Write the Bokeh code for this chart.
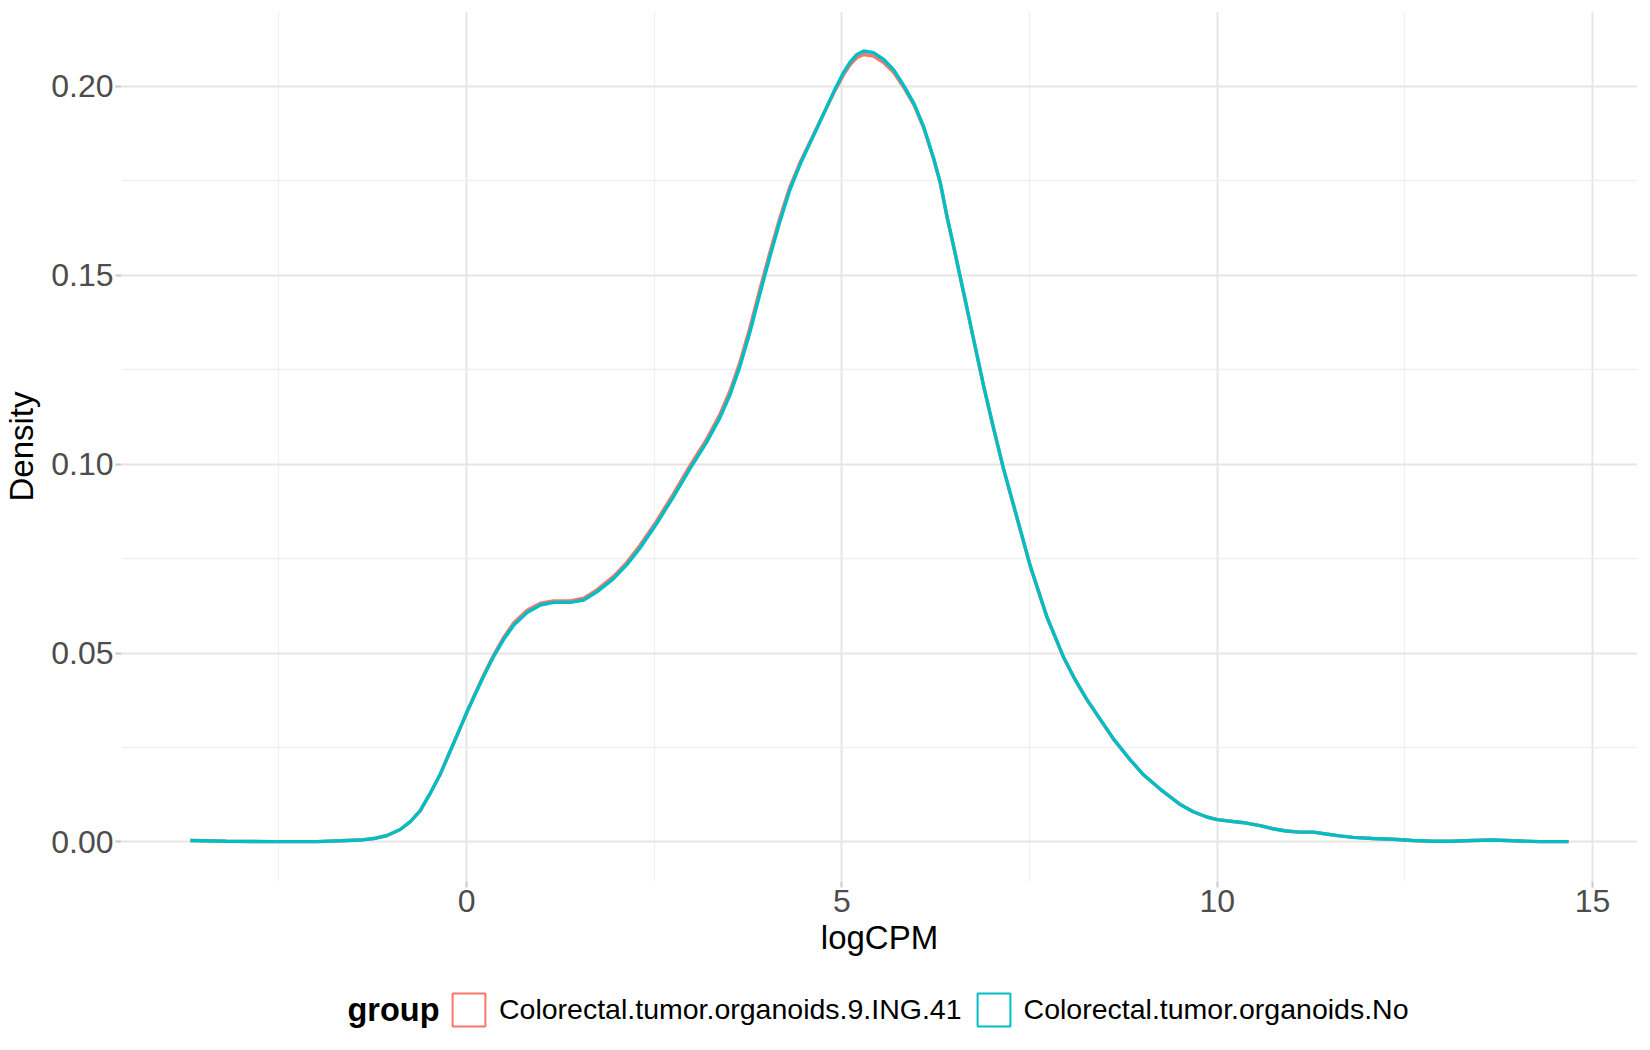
from bokeh.plotting import figure
from bokeh.models import Range1d, FixedTicker, Legend, LegendItem
from bokeh.layouts import column
from bokeh.core.properties import value
from bokeh.embed import file_html
from bokeh.resources import INLINE

# ---- data ----
logcpm = [-3.68, -3.2, -2.6, -2.0, -1.68, -1.42, -1.24, -1.06, -0.885, -0.75,
          -0.62, -0.49, -0.35, -0.22, -0.09, 0.0, 0.10, 0.23, 0.363, 0.496,
          0.629, 0.806, 0.983, 1.16, 1.38, 1.56, 1.736, 1.957, 2.135, 2.31,
          2.53, 2.75, 2.976, 3.198, 3.375, 3.51, 3.64, 3.77, 3.906, 4.04,
          4.17, 4.30, 4.447, 4.67, 4.89, 5.02, 5.11, 5.20, 5.29, 5.42,
          5.56, 5.69, 5.82, 5.96, 6.09, 6.22, 6.31, 6.40, 6.49, 6.56,
          6.62, 6.76, 6.89, 7.02, 7.15, 7.33, 7.51, 7.73, 7.95, 8.10,
          8.26, 8.44, 8.62, 8.82, 9.02, 9.25, 9.50, 9.68, 9.86, 10.0,
          10.21, 10.39, 10.57, 10.74, 10.92, 11.10, 11.28, 11.45, 11.63, 11.81,
          12.07, 12.34, 12.60, 12.87, 13.13, 13.40, 13.67, 13.94, 14.30, 14.68]

density_no = [0.0004, 0.0002, 0.0001, 0.0001, 0.0003, 0.0005, 0.0009, 0.0017, 0.0033, 0.0054,
              0.0082, 0.0127, 0.0180, 0.0240, 0.0300, 0.0342, 0.0385, 0.0440, 0.0492, 0.0537,
              0.0574, 0.0607, 0.0627, 0.0634, 0.0634, 0.0640, 0.0662, 0.0697, 0.0734, 0.0778,
              0.0842, 0.0912, 0.0988, 0.1058, 0.1123, 0.1184, 0.1258, 0.1346, 0.1450, 0.1549,
              0.1640, 0.1722, 0.1795, 0.1890, 0.1985, 0.2036, 0.2064, 0.2084, 0.2093, 0.2089,
              0.2070, 0.2043, 0.2003, 0.1954, 0.1892, 0.1810, 0.1745, 0.1655, 0.1575, 0.1510,
              0.1455, 0.1325, 0.1205, 0.1095, 0.0990, 0.0860, 0.0730, 0.0596, 0.0490, 0.0432,
              0.0378, 0.0325, 0.0272, 0.0222, 0.0177, 0.0138, 0.0100, 0.0080, 0.0066, 0.0059,
              0.0054, 0.0050, 0.0043, 0.0035, 0.0029, 0.0026, 0.0026, 0.0021, 0.0016, 0.0012,
              0.0009, 0.0007, 0.0004, 0.0002, 0.0002, 0.0004, 0.0005, 0.0003, 0.0001, 0.0001]

density_ing41 = [0.0004, 0.0002, 0.0001, 0.0001, 0.0003, 0.0005, 0.0009, 0.0017, 0.0033, 0.0054,
                 0.0082, 0.0127, 0.0180, 0.0240, 0.0300, 0.0342, 0.0387, 0.0443, 0.0496, 0.0542,
                 0.0580, 0.0613, 0.0632, 0.0638, 0.0638, 0.0645, 0.0667, 0.0703, 0.0740, 0.0785,
                 0.0849, 0.0920, 0.0996, 0.1066, 0.1132, 0.1194, 0.1269, 0.1358, 0.1462, 0.1560,
                 0.1650, 0.1730, 0.1800, 0.1892, 0.1982, 0.2030, 0.2057, 0.2076, 0.2084, 0.2080,
                 0.2062, 0.2036, 0.1998, 0.1950, 0.1889, 0.1808, 0.1743, 0.1653, 0.1573, 0.1508,
                 0.1453, 0.1323, 0.1203, 0.1093, 0.0988, 0.0858, 0.0728, 0.0595, 0.0489, 0.0431,
                 0.0377, 0.0324, 0.0271, 0.0222, 0.0177, 0.0138, 0.0100, 0.0080, 0.0066, 0.0059,
                 0.0054, 0.0050, 0.0043, 0.0035, 0.0029, 0.0026, 0.0026, 0.0021, 0.0016, 0.0012,
                 0.0009, 0.0007, 0.0004, 0.0002, 0.0002, 0.0004, 0.0005, 0.0003, 0.0001, 0.0001]

groups = ["Colorectal.tumor.organoids.9.ING.41", "Colorectal.tumor.organoids.No"]
group_colors = ["#F8766D", "#00BFC4"]
legend_title = "group"

x_ticks = [0, 5, 10, 15]
x_tick_labels = ["0", "5", "10", "15"]
x_minor = [-2.5, 2.5, 7.5, 12.5]
y_ticks = [0.0, 0.05, 0.10, 0.15, 0.20]
y_tick_labels = ["0.00", "0.05", "0.10", "0.15", "0.20"]
y_minor = [0.025, 0.075, 0.125, 0.175]

# ---- ranges with ggplot-like 5% expansion ----
xmin, xmax = min(logcpm), max(logcpm)
xpad = 0.05 * (xmax - xmin)
ymax = max(max(density_no), max(density_ing41))
ymin = 0.0
ypad = 0.05 * (ymax - ymin)

FONT = "Liberation Sans"
W = 1642
BL, BR = 121, 5

p = figure(width=W, height=975, output_backend="svg", toolbar_location=None,
           x_range=Range1d(xmin - xpad, xmax + xpad),
           y_range=Range1d(ymin - ypad, ymax + ypad),
           min_border_left=BL, min_border_right=BR, min_border_top=11, min_border_bottom=94)
p.outline_line_color = None
p.background_fill_color = "white"
p.border_fill_color = "white"

xt = FixedTicker(ticks=x_ticks, minor_ticks=x_minor)
yt = FixedTicker(ticks=y_ticks, minor_ticks=y_minor)
p.xaxis.ticker = xt
p.yaxis.ticker = yt
p.xgrid.ticker = xt
p.ygrid.ticker = yt
for g in (p.xgrid, p.ygrid):
    g.grid_line_color = "#E6E6E6"
    g.grid_line_width = 2
    g.minor_grid_line_color = "#F0F0F0"
    g.minor_grid_line_width = 1.3

p.xaxis.major_label_overrides = {t: l for t, l in zip(x_ticks, x_tick_labels)}
p.yaxis.major_label_overrides = {t: l for t, l in zip(y_ticks, y_tick_labels)}

for ax in (p.xaxis, p.yaxis):
    ax.axis_line_color = None
    ax.major_tick_line_color = "#C8C8C8"
    ax.major_tick_line_width = 2
    ax.major_tick_out = 6
    ax.major_tick_in = 0
    ax.minor_tick_line_color = None
    ax.major_label_text_font = FONT
    ax.major_label_text_font_size = "32px"
    ax.major_label_text_color = "#4D4D4D"
    ax.axis_label_text_font = FONT
    ax.axis_label_text_font_size = "33px"
    ax.axis_label_text_font_style = "normal"
    ax.axis_label_text_color = "black"

p.xaxis.axis_label = "logCPM"
p.yaxis.axis_label = "Density"
p.xaxis.major_label_standoff = 2
p.yaxis.major_label_standoff = 2
p.xaxis.axis_label_standoff = 4
p.yaxis.axis_label_standoff = 8

for ys, c in zip([density_ing41, density_no], group_colors):
    p.line(logcpm, ys, line_color=c, line_width=3.4)

# ---- legend strip below the plot (its x coordinates are page pixels) ----
LH = 1042 - 975
lf = figure(width=W, height=LH, output_backend="svg", toolbar_location=None,
            x_range=Range1d(BL, W - BR), y_range=Range1d(0, LH),
            min_border_left=BL, min_border_right=BR, min_border_top=0, min_border_bottom=0)
lf.axis.visible = False
lf.grid.visible = False
lf.outline_line_color = None
lf.background_fill_color = "white"
lf.border_fill_color = "white"

# legend-key renderers: the data's bounding box, which lies outside this strip's view
key_renderers = []
for c, ys in zip(group_colors, [density_ing41, density_no]):
    kr = lf.quad(left=[xmin], right=[xmax], top=[max(ys)], bottom=[min(ys)],
                 fill_color=None, line_color=c, line_width=2)
    key_renderers.append(kr)

legend = Legend(items=[LegendItem(label=g, renderers=[r]) for g, r in zip(groups, key_renderers)],
                orientation="horizontal", location=(448 - BL, 12),
                glyph_width=41, glyph_height=41, label_standoff=10, spacing=11,
                padding=0, margin=0, border_line_color=None, background_fill_alpha=0,
                label_text_font=FONT, label_text_font_size="28.5px", label_text_color="black")
lf.add_layout(legend)

lf.text(x=[347], y=[33], text=[legend_title], text_font=value(FONT), text_font_size="32.5px",
        text_font_style="bold", text_baseline="middle", text_align="left", text_color="black")

layout = column(p, lf, spacing=0)
open("out.html", "w").write(file_html(layout, INLINE))
